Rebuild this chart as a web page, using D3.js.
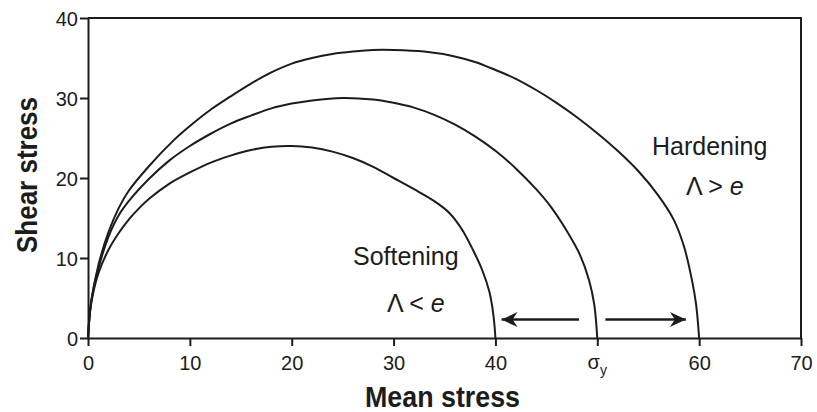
<!DOCTYPE html>
<html>
<head>
<meta charset="utf-8">
<script src="https://cdn.jsdelivr.net/npm/d3@7"></script>
<style>
body { margin: 0; background: #fff; }
svg { display: block; font-family: 'Liberation Sans', Arial, sans-serif; }
</style>
</head>
<body>
<script>
// mean stress / shear stress pairs
var softening = [[0,0],[0.3,4.2],[1,8],[2,11],[3,13.1],[4,14.8],[5,16.2],[6,17.4],[8,19.3],[10,20.7],[12,21.9],[14,22.8],
    [16,23.5],[18,23.9],[20,24],[22,23.8],[24,23.3],[26,22.5],[28,21.4],[30,20],[32,18.6],[34,17.1],[35.5,15.6],[36.7,13.6],
    [37.8,11],[38.7,8.5],[39.4,5.8],[39.8,2.9],[40,0]];
var yieldCurve = [[0,0],[0.3,4.4],[1,8.6],[2,12.6],[3,15.3],[4,17.1],[6,19.9],[8,22.2],[10,24],[12,25.5],[14,26.8],[16,27.8],
    [18,28.7],[20,29.3],[22,29.7],[25,30],[28,29.8],[30,29.4],[32,28.8],[34,27.9],[36,26.7],[38,25.2],[40,23.4],[42,21.2],
    [44,18.6],[45.5,16.3],[47,13.4],[48.3,10.4],[49.2,7.2],[49.7,4.2],[50,0]];
var hardening = [[0,0],[0.3,4.5],[1,9],[2,13.2],[3,16.2],[4,18.4],[6,21.5],[8.4,24.7],[10,26.5],[12,28.5],[14,30.2],[16,31.8],
    [18,33.2],[20,34.3],[22,35],[24,35.5],[26,35.8],[28,36],[30,36],[33,35.8],[36,35.2],[38,34.5],[40,33.5],[42,32.4],[44,31],
    [46,29.4],[48,27.6],[50,25.6],[52,23.4],[54,20.9],[56,17.8],[57.5,14.8],[58.5,11.5],[59.3,7.2],[59.7,4.2],[60,0]];
var xTicks = [0, 10, 20, 30, 40, 50, 60, 70];
var yTicks = [0, 10, 20, 30, 40];
var arrowLevel = 2.3;
var arrowLeft = [48.2, 40.6];
var arrowRight = [50.8, 58.7];

var width = 817, height = 412;
var margin = {top: 18, right: 16, bottom: 74, left: 88};
var ink = '#1c1c1c';

var svg = d3.select('body').append('svg').attr('width', width).attr('height', height);

var x = d3.scaleLinear().domain([0, 70]).range([margin.left, width - margin.right]);
var y = d3.scaleLinear().domain([0, 40]).range([height - margin.bottom, margin.top]);

var defs = svg.append('defs');
defs.append('marker').attr('id', 'head').attr('viewBox', '-18 -9 20 18')
    .attr('refX', 0).attr('refY', 0).attr('markerWidth', 20).attr('markerHeight', 18)
    .attr('markerUnits', 'userSpaceOnUse').attr('orient', 'auto')
    .append('path').attr('d', 'M0,0 L-16,-7.5 L-11,0 L-16,7.5 Z').attr('fill', ink);

// frame
svg.append('path')
    .attr('d', 'M' + x(0) + ',' + y(40) + 'H' + x(70) + 'V' + y(0))
    .attr('fill', 'none').attr('stroke', ink).attr('stroke-width', 2);

var xAxis = svg.append('g').attr('transform', 'translate(0,' + y(0) + ')')
    .call(d3.axisBottom(x).tickValues(xTicks).tickSize(8).tickSizeOuter(0).tickFormat(function(d) { return d == 50 ? '' : d; }));
var yAxis = svg.append('g').attr('transform', 'translate(' + x(0) + ',0)')
    .call(d3.axisLeft(y).tickValues(yTicks).tickSize(8).tickSizeOuter(0));

[xAxis, yAxis].forEach(function(a) {
    a.select('.domain').attr('stroke', ink).attr('stroke-width', 2);
    a.selectAll('.tick line').attr('stroke', ink).attr('stroke-width', 2);
    a.selectAll('.tick text').attr('fill', ink).style('font-size', '20px').style('font-family', "'Liberation Sans', Arial, sans-serif");
});
xAxis.selectAll('.tick text').attr('dy', null).attr('y', 32);
yAxis.selectAll('.tick text').attr('x', -10).attr('dy', '0.36em');

// sigma_y in place of the 50 label
var sig = svg.append('text').attr('x', x(50)).attr('y', y(0) + 31).attr('text-anchor', 'middle')
    .attr('fill', ink).style('font-size', '20px');
sig.append('tspan').text('σ');
sig.append('tspan').attr('dy', 6).style('font-size', '14px').text('y');

svg.append('text').attr('x', (x(0) + x(70)) / 2 - 2).attr('y', 407).attr('text-anchor', 'middle')
    .attr('fill', ink).style('font-size', '30px').style('font-weight', 'bold')
    .attr('textLength', 155).attr('lengthAdjust', 'spacingAndGlyphs').text('Mean stress');
svg.append('text').attr('transform', 'translate(37,' + ((y(0) + y(40)) / 2 - 3) + ') rotate(-90)')
    .attr('text-anchor', 'middle').attr('fill', ink).style('font-size', '30px').style('font-weight', 'bold')
    .attr('textLength', 156).attr('lengthAdjust', 'spacingAndGlyphs').text('Shear stress');

var line = d3.line()
    .x(function(d) { return x(d[0]); })
    .y(function(d) { return y(d[1]); })
    .curve(d3.curveCatmullRom.alpha(0.5));

[softening, yieldCurve, hardening].forEach(function(c) {
    svg.append('path').datum(c).attr('d', line)
        .attr('fill', 'none').attr('stroke', ink).attr('stroke-width', 2);
});

[arrowLeft, arrowRight].forEach(function(a) {
    svg.append('line')
        .attr('x1', x(a[0])).attr('y1', y(arrowLevel))
        .attr('x2', x(a[1])).attr('y2', y(arrowLevel))
        .attr('stroke', ink).attr('stroke-width', 2.5).attr('marker-end', 'url(#head)');
});

function label(tx, ty, parts) {
    var t = svg.append('text').attr('x', tx).attr('y', ty).attr('fill', ink).style('font-size', '25px');
    parts.forEach(function(p) {
        var s = t.append('tspan').text(p[0]);
        if (p[1]) s.style('font-style', 'italic');
    });
}
label(353, 265, [['Softening']]);
label(387, 312, [['Λ < '], ['e', true]]);
label(652, 155, [['Hardening']]);
label(686, 195, [['Λ > '], ['e', true]]);
</script>
</body>
</html>
